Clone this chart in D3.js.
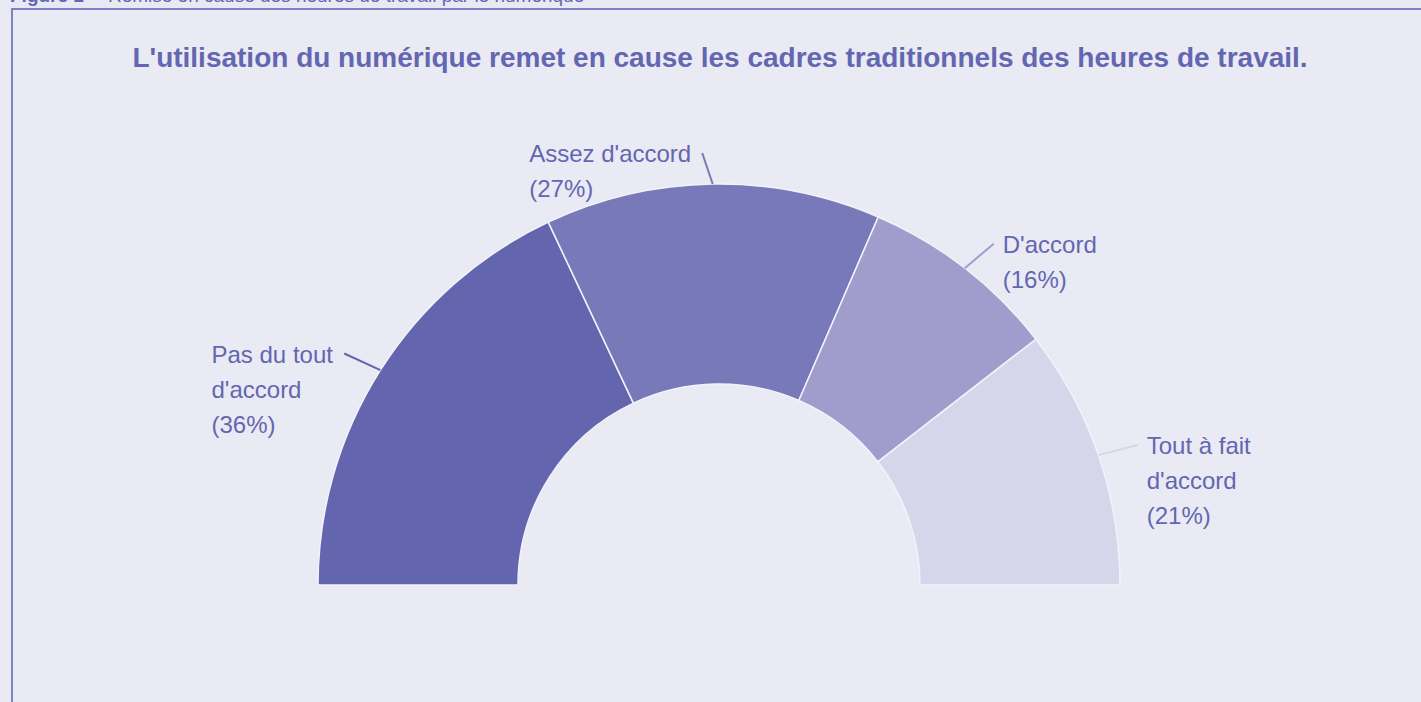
<!DOCTYPE html>
<html>
<head>
<meta charset="utf-8">
<script src="https://cdn.jsdelivr.net/npm/d3@7"></script>
<style>
  html, body { margin: 0; padding: 0; background: #e9e9f3; overflow: hidden; }
  svg { display: block; font-family: "Liberation Sans", Arial, sans-serif; }
</style>
</head>
<body>
<div id="chart"></div>
<script>
// Data
const categories = ["Pas du tout d'accord", "Assez d'accord", "D'accord", "Tout à fait d'accord"];
const values = [36, 27, 16, 21];
const labelLines = [["Pas du tout", "d'accord"], ["Assez d'accord"], ["D'accord"], ["Tout à fait", "d'accord"]];
const colors = ["#6366ae", "#7879b8", "#a09dcd", "#d6d6ea"];

const width = 1421;
const height = 702;
const cx = 719, cy = 585;
const outerR = 401, innerR = 201;
const textColor = "#6366b0";

const svg = d3.select("#chart")
    .append("svg")
    .attr("width", width)
    .attr("height", height);

// Frame
svg.append("rect")
    .attr("x", 12).attr("y", 9)
    .attr("width", width + 20).attr("height", height + 20)
    .attr("fill", "#eaeaf4")
    .attr("stroke", "#7d82c5")
    .attr("stroke-width", 2);

// Figure caption, cut off by the top of the page
const cap = svg.append("text")
    .attr("x", 10).attr("y", 2)
    .attr("font-size", 19)
    .attr("fill", textColor);
cap.append("tspan").attr("font-weight", "bold").text("Figure 1");
cap.append("tspan").attr("dx", 24).text("Remise en cause des heures de travail par le numérique");

// Title
svg.append("text")
    .attr("x", 720).attr("y", 67)
    .attr("text-anchor", "middle")
    .attr("font-size", 28)
    .attr("font-weight", "bold")
    .attr("fill", textColor)
    .text("L'utilisation du numérique remet en cause les cadres traditionnels des heures de travail.");

const data = categories.map((c, i) => ({ name: c, value: values[i], lines: labelLines[i], color: colors[i] }));

const pie = d3.pie()
    .sort(null)
    .value(d => d.value)
    .startAngle(-Math.PI / 2)
    .endAngle(Math.PI / 2);

const arc = d3.arc().innerRadius(innerR).outerRadius(outerR);

const g = svg.append("g").attr("transform", `translate(${cx}, ${cy})`);

const arcs = pie(data);

g.selectAll(".slice")
    .data(arcs)
    .enter()
    .append("path")
    .attr("class", "slice")
    .attr("d", arc)
    .attr("fill", d => d.data.color)
    .attr("stroke", "#f2f2f9")
    .attr("stroke-width", 1.5);

// Labels with leader lines
const lineR = 432;
arcs.forEach(d => {
    const a = (d.startAngle + d.endAngle) / 2;
    const x0 = outerR * Math.sin(a), y0 = -outerR * Math.cos(a);
    const left = Math.sin(a) < 0 || d.index === 1;
    const x1 = lineR * Math.sin(a) + (left ? -10 : 10), y1 = -lineR * Math.cos(a);

    g.append("line")
        .attr("x1", x0).attr("y1", y0)
        .attr("x2", x1).attr("y2", y1)
        .attr("stroke", d.data.color)
        .attr("stroke-width", 2);

    const lines = d.data.lines.concat([`(${d.data.value}%)`]);
    const t = g.append("text")
        .attr("font-size", 24)
        .attr("fill", textColor);
    lines.forEach((l, i) => {
        t.append("tspan")
            .attr("x", 0)
            .attr("dy", i === 0 ? 0 : 35)
            .text(l);
    });
    const w = t.node().getBBox().width;
    const tx = left ? x1 - 11 - w : x1 + 9;
    t.attr("transform", `translate(${tx}, ${y1 + 9})`);
});
</script>
</body>
</html>
